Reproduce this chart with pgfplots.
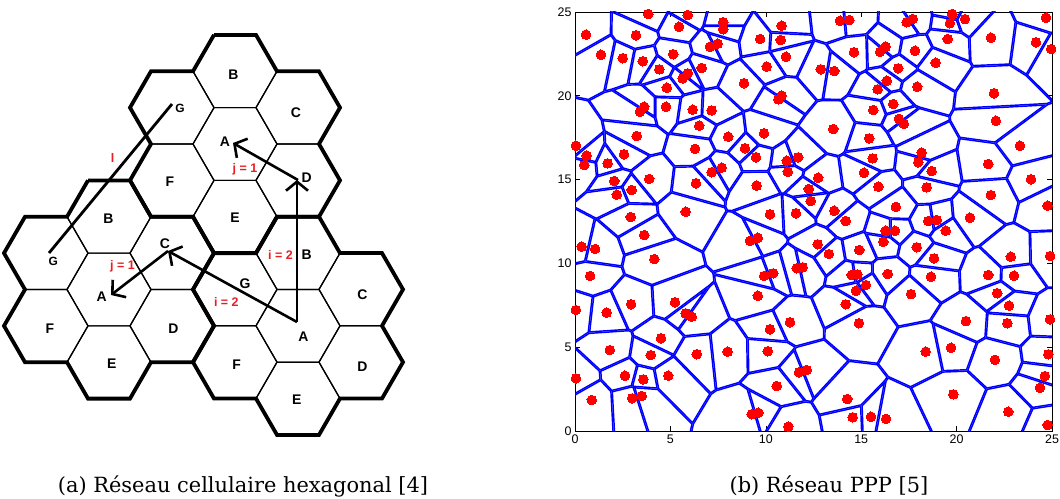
\documentclass[border=0pt]{standalone}
\usepackage{fontspec}
\setmainfont{DejaVu Serif}
\newfontfamily\labelfont{Liberation Sans}
\usepackage{pgfplots}
\pgfplotsset{compat=1.18}
\usepackage{pgfplotstable}
\usetikzlibrary{arrows.meta}

\definecolor{vorblue}{RGB}{0,0,255}
\definecolor{dotred}{RGB}{255,0,0}
\definecolor{labred}{RGB}{235,28,36}

% flat-topped hexagonal cell, circumradius = mark size
\pgfdeclareplotmark{hexcell}{%
  \pgfpathmoveto{\pgfqpoint{\pgfplotmarksize}{0pt}}%
  \pgfpathlineto{\pgfqpoint{0.5\pgfplotmarksize}{0.8660254\pgfplotmarksize}}%
  \pgfpathlineto{\pgfqpoint{-0.5\pgfplotmarksize}{0.8660254\pgfplotmarksize}}%
  \pgfpathlineto{\pgfqpoint{-\pgfplotmarksize}{0pt}}%
  \pgfpathlineto{\pgfqpoint{-0.5\pgfplotmarksize}{-0.8660254\pgfplotmarksize}}%
  \pgfpathlineto{\pgfqpoint{0.5\pgfplotmarksize}{-0.8660254\pgfplotmarksize}}%
  \pgfpathclose
  \pgfusepathqstroke}

% centres of the 21 cells (three 7-cell clusters)
\pgfplotstableread{
x y
235 144
235 71.27
298 107.63
298 180.37
235 216.73
172 180.37
172 107.63
109 289.5
109 216.77
172 253.13
172 325.87
109 362.23
46 325.87
46 253.13
298 325.8
298 253.07
361 289.43
361 362.17
298 398.53
235 362.17
235 289.43
}\hexcenters

% Poisson point process sites
\pgfplotstableread{
x y
3.84 24.88
5.91 24.82
7.77 24.39
7.77 23.97
0.58 23.65
3.20 23.61
5.45 24.12
7.48 23.11
7.08 22.93
1.36 22.45
2.50 22.24
3.55 22.06
5.15 22.48
4.42 21.58
6.64 21.66
5.91 21.34
5.64 21.04
4.81 20.48
3.63 19.35
3.41 19.05
4.77 19.35
6.17 19.17
7.16 19.13
6.51 18.22
3.23 17.60
0.05 17.02
6.29 16.83
8.03 17.56
0.61 16.43
0.49 15.87
2.57 16.51
1.71 15.97
7.16 15.44
7.69 15.71
2.06 14.92
3.89 15.04
6.34 14.78
2.97 14.38
2.19 14.10
2.92 12.77
5.80 13.08
10.83 24.18
13.89 24.48
14.38 24.52
9.70 23.39
10.78 23.33
11.06 22.33
10.05 21.74
14.62 22.60
15.99 22.63
16.28 22.93
12.88 21.58
13.59 21.48
8.86 20.75
16.34 20.90
10.83 20.01
10.66 19.79
15.86 20.39
15.63 19.15
13.54 18.02
9.91 17.76
8.91 16.87
9.49 16.33
11.70 16.33
11.10 16.13
11.15 15.47
15.42 17.46
15.60 16.27
15.15 15.41
9.52 14.64
12.75 15.11
12.25 14.44
12.35 13.72
15.90 14.58
10.22 12.93
11.58 12.99
13.59 13.14
14.19 12.53
17.70 24.58
17.38 24.39
19.77 24.88
19.65 24.33
20.44 24.58
24.69 24.66
19.53 23.39
21.80 23.47
24.16 23.19
24.95 22.79
17.82 22.69
18.90 21.97
16.94 21.64
17.94 20.54
21.96 20.15
16.68 19.51
22.06 18.51
16.98 18.62
17.24 18.32
23.32 17.02
18.17 16.61
17.99 16.03
18.69 15.51
21.66 15.93
23.90 15.02
18.43 14.54
21.80 14.08
24.77 13.44
16.82 13.37
18.52 12.53
18.96 12.59
20.70 12.73
3.63 11.69
0.35 11.00
1.05 10.86
4.16 10.26
0.79 9.25
2.94 7.56
5.24 7.68
0.05 7.22
1.66 7.06
5.80 7.02
6.12 6.82
4.51 5.53
1.83 4.83
3.97 4.53
6.38 4.58
8.00 4.73
0.05 3.14
2.62 3.30
3.58 3.08
4.89 3.30
0.88 1.85
3.00 1.95
3.50 2.09
9.58 11.53
9.17 11.34
12.72 11.14
13.31 10.56
14.90 10.80
16.16 11.29
16.28 11.95
16.77 11.95
10.39 9.41
9.91 9.25
11.93 9.77
11.62 9.71
14.50 9.31
14.80 9.35
16.39 9.37
15.25 8.71
14.73 8.37
9.58 8.07
14.19 7.56
11.27 6.49
10.22 6.07
14.88 6.43
10.10 4.76
12.14 3.64
11.74 3.50
10.57 2.68
14.27 1.91
9.61 1.09
9.26 1.00
14.55 0.82
15.51 0.85
16.30 0.72
11.18 0.26
19.43 11.95
17.91 10.96
18.82 10.30
22.84 10.40
24.90 10.44
18.66 9.21
21.66 9.31
23.01 9.27
17.61 8.17
22.13 8.22
22.75 7.48
20.49 6.56
22.66 6.43
24.90 6.66
18.38 4.73
19.71 4.97
22.01 4.24
24.81 4.58
24.63 3.28
24.37 2.58
19.83 2.19
22.71 1.15
24.77 0.36
}\pppsites

% index the sites for the Voronoi construction
\pgfplotstablegetrowsof{\pppsites}
\pgfmathtruncatemacro\lastsite{\pgfplotsretval-1}
\pgfplotstableforeachcolumnelement{x}\of\pppsites\as\cell{%
  \expandafter\xdef\csname sitex\pgfplotstablerow\endcsname{\cell}}
\pgfplotstableforeachcolumnelement{y}\of\pppsites\as\cell{%
  \expandafter\xdef\csname sitey\pgfplotstablerow\endcsname{\cell}}

\tikzset{
  vorline/.style={draw=vorblue, line width=2.9bp},
  hexlab/.style={font=\labelfont\bfseries\fontsize{14}{16}\selectfont},
  hexlabsmall/.style={font=\labelfont\bfseries\fontsize{12}{14}\selectfont},
  redlab/.style={font=\labelfont\bfseries\fontsize{12.5}{14}\selectfont, text=labred},
}

% each cell = window cut by the half-planes of its nearby sites;
% the bisectors are stroked inside that cut, so only the cell edges show
\newcommand\voronoicells{%
  \foreach \ci in {0,...,\lastsite}{%
    \edef\vxi{\csname sitex\ci\endcsname}%
    \edef\vyi{\csname sitey\ci\endcsname}%
    \gdef\cellsegs{}%
    \begin{scope}
      \clip (axis cs:0,0) rectangle (axis cs:25,25);
      \foreach \cj in {0,...,\lastsite}{%
        \ifnum\ci=\cj\relax\else
          \edef\vxj{\csname sitex\cj\endcsname}%
          \edef\vyj{\csname sitey\cj\endcsname}%
          \pgfmathsetmacro\vdx{\vxj-\vxi}%
          \pgfmathsetmacro\vdy{\vyj-\vyi}%
          \pgfmathsetmacro\vdd{(\vdx)*(\vdx)+(\vdy)*(\vdy)}%
          \ifdim\vdd pt<60pt
          \ifdim\vdd pt>0.0001pt
            \pgfmathsetmacro\vlen{sqrt(\vdd)}%
            \pgfmathsetmacro\ua{40*(\vdx)/\vlen}%
            \pgfmathsetmacro\ub{40*(\vdy)/\vlen}%
            \pgfmathsetmacro\mx{(\vxi+\vxj)/2}%
            \pgfmathsetmacro\my{(\vyi+\vyj)/2}%
            \pgfmathsetmacro\pax{\mx-(\ub)}%
            \pgfmathsetmacro\pay{\my+(\ua)}%
            \pgfmathsetmacro\pbx{\mx+(\ub)}%
            \pgfmathsetmacro\pby{\my-(\ua)}%
            \pgfmathsetmacro\qax{\pax-(\ua)}%
            \pgfmathsetmacro\qay{\pay-(\ub)}%
            \pgfmathsetmacro\qbx{\pbx-(\ua)}%
            \pgfmathsetmacro\qby{\pby-(\ub)}%
            \clip (axis cs:\pax,\pay) -- (axis cs:\qax,\qay) -- (axis cs:\qbx,\qby) -- (axis cs:\pbx,\pby) -- cycle;
            \xdef\cellsegs{\cellsegs (axis cs:\pax,\pay) -- (axis cs:\pbx,\pby)}%
          \fi
          \fi
        \fi
      }%
      \edef\drawcell{\noexpand\draw[vorline] \cellsegs;}%
      \drawcell
    \end{scope}
  }%
}

\begin{document}
\begin{tikzpicture}
\useasboundingbox (0,0) rectangle (1060bp,499bp);

% ---------------- (a) hexagonal cellular network ----------------
\begin{axis}[
  scale only axis, width=430bp, height=450bp,
  at={(0bp,49bp)}, anchor=south west,
  xmin=0, xmax=430, ymin=0, ymax=450, y dir=reverse,
  enlargelimits=false, hide axis, clip=false,
]
\addplot[only marks, mark=hexcell, mark size=42bp,
  mark options={draw=black, line width=1.2bp}] table {\hexcenters};

% cluster outlines
\addplot[black, mark=none, line width=3.8bp] coordinates {
 (214,34.9) (256,34.9) (277,71.27) (319,71.27) (340,107.63) (319,144)
 (340,180.37) (319,216.73) (277,216.73) (256,253.1) (214,253.1) (193,216.73)
 (151,216.73) (130,180.37) (151,144) (130,107.63) (151,71.27) (193,71.27) (214,34.9)};
\addplot[black, mark=none, line width=3.8bp] coordinates {
 (88,180.4) (130,180.4) (151,216.77) (193,216.77) (214,253.13) (193,289.5)
 (214,325.87) (193,362.23) (151,362.23) (130,398.6) (88,398.6) (67,362.23)
 (25,362.23) (4,325.87) (25,289.5) (4,253.13) (25,216.77) (67,216.77) (88,180.4)};
\addplot[black, mark=none, line width=3.8bp] coordinates {
 (277,216.7) (319,216.7) (340,253.07) (382,253.07) (403,289.43) (382,325.8)
 (403,362.17) (382,398.53) (340,398.53) (319,434.9) (277,434.9) (256,398.53)
 (214,398.53) (193,362.17) (214,325.8) (193,289.43) (214,253.07) (256,253.07) (277,216.7)};

% co-channel distance and the i, j steps
\addplot[black, mark=none, line width=2.8bp] coordinates {(172,104) (49,253)};
\addplot[black, mark=none, line width=2.6bp, -{Straight Barb[length=9bp,width=22bp]}]
  coordinates {(297,322) (297,180)};
\addplot[black, mark=none, line width=2.6bp, -{Straight Barb[length=9bp,width=22bp]}]
  coordinates {(298,180) (233,143)};
\addplot[black, mark=none, line width=2.6bp, -{Straight Barb[length=9bp,width=22bp]}]
  coordinates {(297,322) (168,251)};
\addplot[black, mark=none, line width=2.6bp, -{Straight Barb[length=9bp,width=22bp]}]
  coordinates {(168,251) (111,295)};

% cell letters
\node[hexlab] at (axis cs:233.3,75) {B};
\node[hexlab] at (axis cs:296,112.3) {C};
\node[hexlab] at (axis cs:225,141.7) {A};
\node[hexlab] at (axis cs:306.7,177.7) {D};
\node[hexlab] at (axis cs:235,217.7) {E};
\node[hexlab] at (axis cs:170,181.7) {F};
\node[hexlabsmall] at (axis cs:180,108.3) {G};
\node[hexlab] at (axis cs:108.3,218.3) {B};
\node[hexlab] at (axis cs:165,243.3) {C};
\node[hexlabsmall] at (axis cs:53.3,261.7) {G};
\node[hexlab] at (axis cs:101.7,296.7) {A};
\node[hexlab] at (axis cs:50,328.3) {F};
\node[hexlab] at (axis cs:173.3,328.3) {D};
\node[hexlab] at (axis cs:111.7,363.3) {E};
\node[hexlab] at (axis cs:306.7,254.3) {B};
\node[hexlab] at (axis cs:245,283.3) {G};
\node[hexlab] at (axis cs:362.3,294.3) {C};
\node[hexlab] at (axis cs:303.3,336.7) {A};
\node[hexlab] at (axis cs:236.7,365) {F};
\node[hexlab] at (axis cs:362.3,366.7) {D};
\node[hexlab] at (axis cs:296.7,400) {E};

% step labels
\node[redlab] at (axis cs:112.7,158.3) {l};
\node[redlab] at (axis cs:122.5,266.7) {j = 1};
\node[redlab] at (axis cs:226.3,301.7) {i = 2};
\node[redlab] at (axis cs:280.5,255) {i = 2};
\node[redlab] at (axis cs:245,169) {j = 1};
\end{axis}

% ---------------- (b) PPP network with Voronoi cells ----------------
\begin{axis}[
  scale only axis, width=477bp, height=419bp,
  at={(575bp,68bp)}, anchor=south west,
  xmin=0, xmax=25, ymin=0, ymax=25,
  xtick={0,5,...,25}, ytick={0,5,...,25},
  tick align=inside, major tick length=5bp,
  tick style={black, line width=0.6bp},
  axis line style={line width=0.8bp},
  ticklabel style={font=\labelfont\fontsize{12.5}{14}\selectfont},
  /pgf/number format/assume math mode=true,
]
\pgfplotsextra{\voronoicells}
\addplot[only marks, mark=*, mark size=4.8bp, color=dotred,
  mark options={draw=dotred, fill=dotred, line width=0pt}] table {\pppsites};
\end{axis}

% captions
\node[anchor=base, font=\fontsize{21}{25}\selectfont] at (243bp,7bp)
  {(a) Réseau cellulaire hexagonal [4]};
\node[anchor=base, font=\fontsize{21}{25}\selectfont] at (829bp,7bp)
  {(b) Réseau PPP [5]};
\end{tikzpicture}
\end{document}
